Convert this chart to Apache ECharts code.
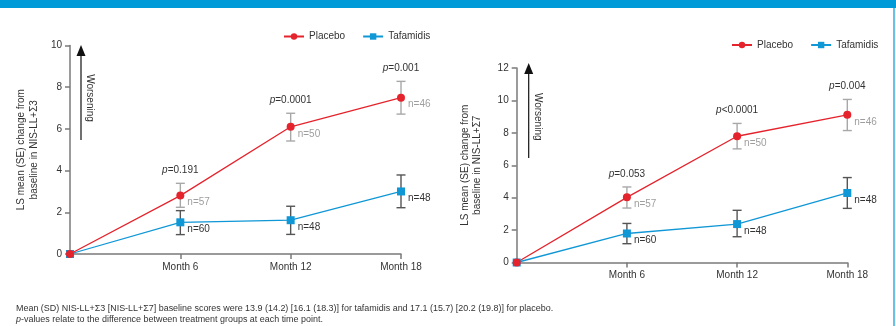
<!DOCTYPE html>
<html>
<head>
<meta charset="utf-8">
<script src="https://cdn.jsdelivr.net/npm/echarts@6/dist/echarts.min.js"></script>
<style>html,body{margin:0;padding:0;background:#fff}#c{width:896px;height:326px}</style>
</head>
<body>
<div id="c"></div>
<script>
// ---- Data ----
const months = [0, 6, 12, 18];
const monthTicks = [6, 12, 18];
const seriesNames = ['Placebo', 'Tafamidis'];

// Left panel: NIS-LL+Σ3
const s3Placebo     = [0, 2.80, 6.10, 7.50];
const s3PlaceboLow  = [null, 2.24, 5.42, 6.71];
const s3PlaceboHigh = [null, 3.39, 6.75, 8.28];
const s3Taf         = [0, 1.52, 1.62, 3.00];
const s3TafLow      = [null, 0.93, 0.94, 2.22];
const s3TafHigh     = [null, 2.08, 2.29, 3.79];
const s3PValues     = ['', 'p=0.191', 'p=0.0001', 'p=0.001'];
const s3PlaceboN    = ['', 'n=57', 'n=50', 'n=46'];
const s3TafN        = ['', 'n=60', 'n=48', 'n=48'];

// Right panel: NIS-LL+Σ7
const s7Placebo     = [0, 4.02, 7.79, 9.11];
const s7PlaceboLow  = [null, 3.36, 7.01, 8.14];
const s7PlaceboHigh = [null, 4.66, 8.58, 10.06];
const s7Taf         = [0, 1.79, 2.37, 4.29];
const s7TafLow      = [null, 1.16, 1.59, 3.34];
const s7TafHigh     = [null, 2.41, 3.22, 5.24];
const s7PValues     = ['', 'p=0.053', 'p<0.0001', 'p=0.004'];
const s7PlaceboN    = ['', 'n=57', 'n=50', 'n=46'];
const s7TafN        = ['', 'n=60', 'n=48', 'n=48'];

const yTitles = ['LS mean (SE) change from\nbaseline in NIS-LL+Σ3', 'LS mean (SE) change from\nbaseline in NIS-LL+Σ7'];
const yMax = [10, 12];
const footnote1 = 'Mean (SD) NIS-LL+Σ3 [NIS-LL+Σ7] baseline scores were 13.9 (14.2) [16.1 (18.3)] for tafamidis and 17.1 (15.7) [20.2 (19.8)] for placebo.';
const footnote2 = '{i|p}-values relate to the difference between treatment groups at each time point.';

// ---- Styles ----
const FONT = '"Liberation Sans", Arial, Helvetica, sans-serif';
const RED = '#e5232c';
const BLUE = '#0f97d6';
const AXIS = '#7a7a7a';
const TEXT = '#333333';
const GRAY_ERR = '#a8a8a8';
const DARK_ERR = '#555555';

function pRich(s) { return '{i|' + s.charAt(0) + '}' + s.slice(1); }

function errorSeries(idx, mean, low, high, color, nLabels, nColor, pLabels) {
  return {
    type: 'custom', xAxisIndex: idx, yAxisIndex: idx, z: 1, silent: true,
    data: months.map((m, i) => [m, low[i], high[i], mean[i], i]).filter(d => d[1] != null),
    renderItem(params, api) {
      const x = api.value(0), lo = api.value(1), hi = api.value(2), mu = api.value(3), k = api.value(4);
      const pl = api.coord([x, lo]), ph = api.coord([x, hi]), pm = api.coord([x, mu]);
      const w = 4.5;
      const ls = { stroke: color, lineWidth: 1.4 };
      const children = [
        { type: 'line', shape: { x1: pl[0], y1: pl[1], x2: ph[0], y2: ph[1] }, style: ls },
        { type: 'line', shape: { x1: pl[0] - w, y1: pl[1], x2: pl[0] + w, y2: pl[1] }, style: ls },
        { type: 'line', shape: { x1: ph[0] - w, y1: ph[1], x2: ph[0] + w, y2: ph[1] }, style: ls },
        { type: 'text', x: pm[0] + 7, y: pm[1] + 7,
          style: { text: nLabels[k], fill: nColor, fontSize: 10, fontFamily: FONT, align: 'left', verticalAlign: 'middle' } }
      ];
      if (pLabels) {
        children.push({ type: 'text', x: ph[0], y: ph[1] - 13,
          style: { text: pRich(pLabels[k]), fill: TEXT, fontSize: 10, fontFamily: FONT, align: 'center', verticalAlign: 'middle',
            rich: { i: { fontStyle: 'italic', fontSize: 10, fontFamily: FONT, fill: TEXT } } } });
      }
      return { type: 'group', children };
    }
  };
}

function lineSeries(idx, name, data, color, symbol) {
  return {
    type: 'line', name, xAxisIndex: idx, yAxisIndex: idx, z: 3,
    data: months.map((m, i) => [m, data[i]]),
    symbol, symbolSize: 8, showAllSymbol: true,
    lineStyle: { color, width: 1.3 }, itemStyle: { color },
    emphasis: { disabled: true }
  };
}

const grids = [
  { left: 70, top: 45.5, width: 331, height: 208.5 },
  { left: 516.7, top: 68, width: 330.6, height: 194.5 }
];

function xAxis(i) {
  return {
    type: 'value', gridIndex: i, min: 0, max: 18, interval: 6,
    axisLine: { show: true, lineStyle: { color: AXIS, width: 1.5 } },
    axisTick: { show: true, length: 5, customValues: monthTicks, lineStyle: { color: AXIS, width: 1.5 } },
    axisLabel: { customValues: monthTicks, formatter: v => 'Month ' + v, color: TEXT, fontSize: 10, fontFamily: FONT, margin: 8 },
    splitLine: { show: false }
  };
}
function yAxis(i) {
  return {
    type: 'value', gridIndex: i, min: 0, max: yMax[i], interval: 2,
    name: yTitles[i], nameLocation: 'middle', nameGap: i === 0 ? 30 : 33, nameRotate: 90,
    nameTextStyle: { color: TEXT, fontSize: 10, fontFamily: FONT, lineHeight: 12.5 },
    axisLine: { show: true, lineStyle: { color: AXIS, width: 1.5 } },
    axisTick: { show: true, length: 5, inside: false, lineStyle: { color: AXIS, width: 1.5 } },
    axisLabel: { color: TEXT, fontSize: 10, fontFamily: FONT, margin: 8 },
    splitLine: { show: false }
  };
}

function worsening(x, yTip, yBottom, textY) {
  return [
    { type: 'line', shape: { x1: x, y1: yTip + 8, x2: x, y2: yBottom }, style: { stroke: '#111', lineWidth: 1.2 }, silent: true },
    { type: 'polygon', shape: { points: [[x, yTip], [x - 4.5, yTip + 11], [x + 4.5, yTip + 11]] }, style: { fill: '#111' }, silent: true },
    { type: 'text', x: x + 9, y: textY, rotation: -Math.PI / 2,
      style: { text: 'Worsening', fill: TEXT, fontSize: 10, fontFamily: FONT, align: 'center', verticalAlign: 'middle' }, silent: true }
  ];
}

const legendCommon = {
  data: seriesNames, itemWidth: 20, itemHeight: 8, itemGap: 17, padding: 0,
  textStyle: { color: TEXT, fontSize: 10, fontFamily: FONT }, selectedMode: false
};

const option = {
  animation: false,
  textStyle: { fontFamily: FONT },
  grid: grids,
  xAxis: [xAxis(0), xAxis(1)],
  yAxis: [yAxis(0), yAxis(1)],
  legend: [
    Object.assign({}, legendCommon, { left: 283, top: 31.5 }),
    Object.assign({}, legendCommon, { left: 731, top: 40 })
  ],
  series: [
    errorSeries(0, s3Taf, s3TafLow, s3TafHigh, DARK_ERR, s3TafN, TEXT, null),
    errorSeries(0, s3Placebo, s3PlaceboLow, s3PlaceboHigh, GRAY_ERR, s3PlaceboN, '#9e9e9e', s3PValues),
    lineSeries(0, 'Tafamidis', s3Taf, BLUE, 'rect'),
    lineSeries(0, 'Placebo', s3Placebo, RED, 'circle'),
    errorSeries(1, s7Taf, s7TafLow, s7TafHigh, DARK_ERR, s7TafN, TEXT, null),
    errorSeries(1, s7Placebo, s7PlaceboLow, s7PlaceboHigh, GRAY_ERR, s7PlaceboN, '#9e9e9e', s7PValues),
    lineSeries(1, 'Tafamidis', s7Taf, BLUE, 'rect'),
    lineSeries(1, 'Placebo', s7Placebo, RED, 'circle')
  ],
  graphic: [
    { type: 'rect', shape: { x: 0, y: 0, width: 896, height: 8 }, style: { fill: '#009ad8' }, silent: true },
    { type: 'rect', shape: { x: 893, y: 8, width: 2, height: 318 }, style: { fill: '#6cc0e6' }, silent: true },
    ...worsening(81, 45, 140, 98),
    ...worsening(528.7, 63, 158, 116.7),
    { type: 'text', x: 16, y: 308.5,
      style: { text: footnote1, fill: TEXT, fontSize: 8.95, fontFamily: FONT, align: 'left', verticalAlign: 'middle' }, silent: true },
    { type: 'text', x: 16, y: 320,
      style: { text: footnote2, fill: TEXT, fontSize: 8.95, fontFamily: FONT, align: 'left', verticalAlign: 'middle',
        rich: { i: { fontStyle: 'italic', fontSize: 8.95, fontFamily: FONT, fill: TEXT } } }, silent: true }
  ]
};

const chart = echarts.init(document.getElementById('c'), null, { renderer: 'canvas' });
chart.setOption(option);
</script>
</body>
</html>
